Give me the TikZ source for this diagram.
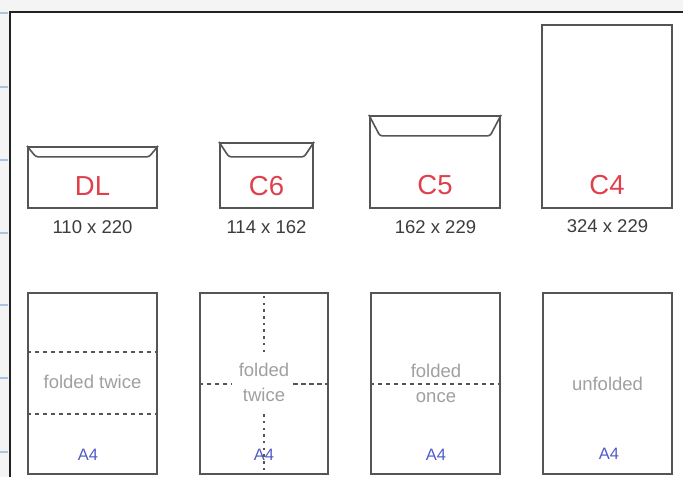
\documentclass[tikz,border=0pt]{standalone}
\usepackage{fontspec}
\setmainfont{Liberation Sans}
\usetikzlibrary{calc}
\definecolor{bggray}{HTML}{F4F4F4}
\definecolor{framecol}{HTML}{222222}
\definecolor{tickblue}{HTML}{A8C4E0}
\definecolor{linegray}{HTML}{555555}
\definecolor{envred}{HTML}{E0404C}
\definecolor{a4blue}{HTML}{4F5CC8}
\definecolor{foldtext}{HTML}{A0A0A0}
\definecolor{numtext}{HTML}{3C3C3C}
\begin{document}
\begin{tikzpicture}[x=1pt,y=-1pt,
  envbox/.style={draw=linegray, line width=2.2pt, inner sep=0pt, fill=white},
  flap/.style={draw=linegray, line width=1.6pt, rounded corners=2.5pt},
  fold/.style={draw=linegray, line width=2pt, dash pattern=on 4.5pt off 3.5pt},
  dots/.style={draw=linegray, line width=2.2pt, dash pattern=on 2.5pt off 4.2pt},
  envlbl/.style={text=envred, font=\fontsize{27.5}{30}\selectfont, inner sep=0pt, anchor=base},
  sizelbl/.style={text=numtext, font=\fontsize{18.5}{21}\selectfont, inner sep=0pt, anchor=base},
  foldlbl/.style={text=foldtext, font=\fontsize{18.5}{21}\selectfont, inner sep=0pt, anchor=base},
  a4lbl/.style={text=a4blue, font=\fontsize{16.5}{19}\selectfont, inner sep=0pt, anchor=base}
]
\useasboundingbox (0,0) rectangle (683,477);
\fill[bggray] (0,0) rectangle (683,477);
\fill[white] (10,12) rectangle (683,477);
\draw[framecol, line width=2.5pt] (10,477) -- (10,12) -- (683,12);
\foreach \yy in {13,87,160,233,305,378,452}
  \draw[tickblue, line width=1.2pt] (0,\yy) -- (8,\yy);

% envelopes (top row)
\node[envbox, minimum width=129pt, minimum height=61pt] (dl) at (92.5,177.5) {};
\node[envbox, minimum width=93pt, minimum height=65pt] (c6) at (266.5,175.5) {};
\node[envbox, minimum width=130pt, minimum height=92pt] (c5) at (435,162) {};
\node[envbox, minimum width=130pt, minimum height=183pt] (c4) at (607,116.5) {};

\draw[flap] (dl.north west) -- ($(dl.north west)+(9,11)$) -- ($(dl.north east)+(-9,11)$) -- (dl.north east);
\draw[flap] (c6.north west) -- ($(c6.north west)+(10,15)$) -- ($(c6.north east)+(-10,15)$) -- (c6.north east);
\draw[flap] (c5.north west) -- ($(c5.north west)+(11,21)$) -- ($(c5.north east)+(-11,21)$) -- (c5.north east);

\node[envlbl] (dlt) at (92.5,195) {DL};
\node[envlbl] (c6t) at (266.5,195) {C6};
\node[envlbl] (c5t) at (435,194) {C5};
\node[envlbl] (c4t) at (607,194) {C4};

\node[sizelbl] (dls) at (92.5,233) {110 x 220};
\node[sizelbl] (c6s) at (266.5,233) {114 x 162};
\node[sizelbl] (c5s) at (435.5,233) {162 x 229};
\node[sizelbl] (c4s) at (607.5,232) {324 x 229};

% A4 sheets (bottom row)
\node[envbox, minimum width=129pt, minimum height=181pt] (b1) at (92.5,383.5) {};
\node[envbox, minimum width=128pt, minimum height=181pt] (b2) at (264,383.5) {};
\node[envbox, minimum width=129pt, minimum height=181pt] (b3) at (435.5,383.5) {};
\node[envbox, minimum width=129pt, minimum height=181pt] (b4) at (607.5,383.5) {};

% folds
\draw[fold] ($(b1.north west)+(0,60)$) -- ($(b1.north east)+(0,60)$);
\draw[fold] ($(b1.north west)+(0,122)$) -- ($(b1.north east)+(0,122)$);

\draw[dots] ($(b2.north)+(0,4)$) -- ($(b2.north)+(0,64)$);
\draw[dots] ($(b2.south)+(0,-61)$) -- (b2.south);
\draw[fold] (b2.west) -- ($(b2.west)+(33,0)$);
\draw[fold] ($(b2.east)+(-36,0)$) -- (b2.east);

\draw[fold] (b3.west) -- (b3.east);

% texts
\node[foldlbl] (t1) at (92.5,388) {folded twice};
\node[foldlbl] (t2a) at (264,376) {folded};
\node[foldlbl] (t2b) at (264,401) {twice};
\node[foldlbl] (t3a) at (436,377) {folded};
\node[foldlbl] (t3b) at (436,402) {once};
\node[foldlbl] (t4) at (607.5,390) {unfolded};

\node[a4lbl] (a1) at (88,460) {A4};
\node[a4lbl] (a2) at (264,460) {A4};
\node[a4lbl] (a3) at (436,460) {A4};
\node[a4lbl] (a4) at (609,459) {A4};
\end{tikzpicture}
\end{document}
